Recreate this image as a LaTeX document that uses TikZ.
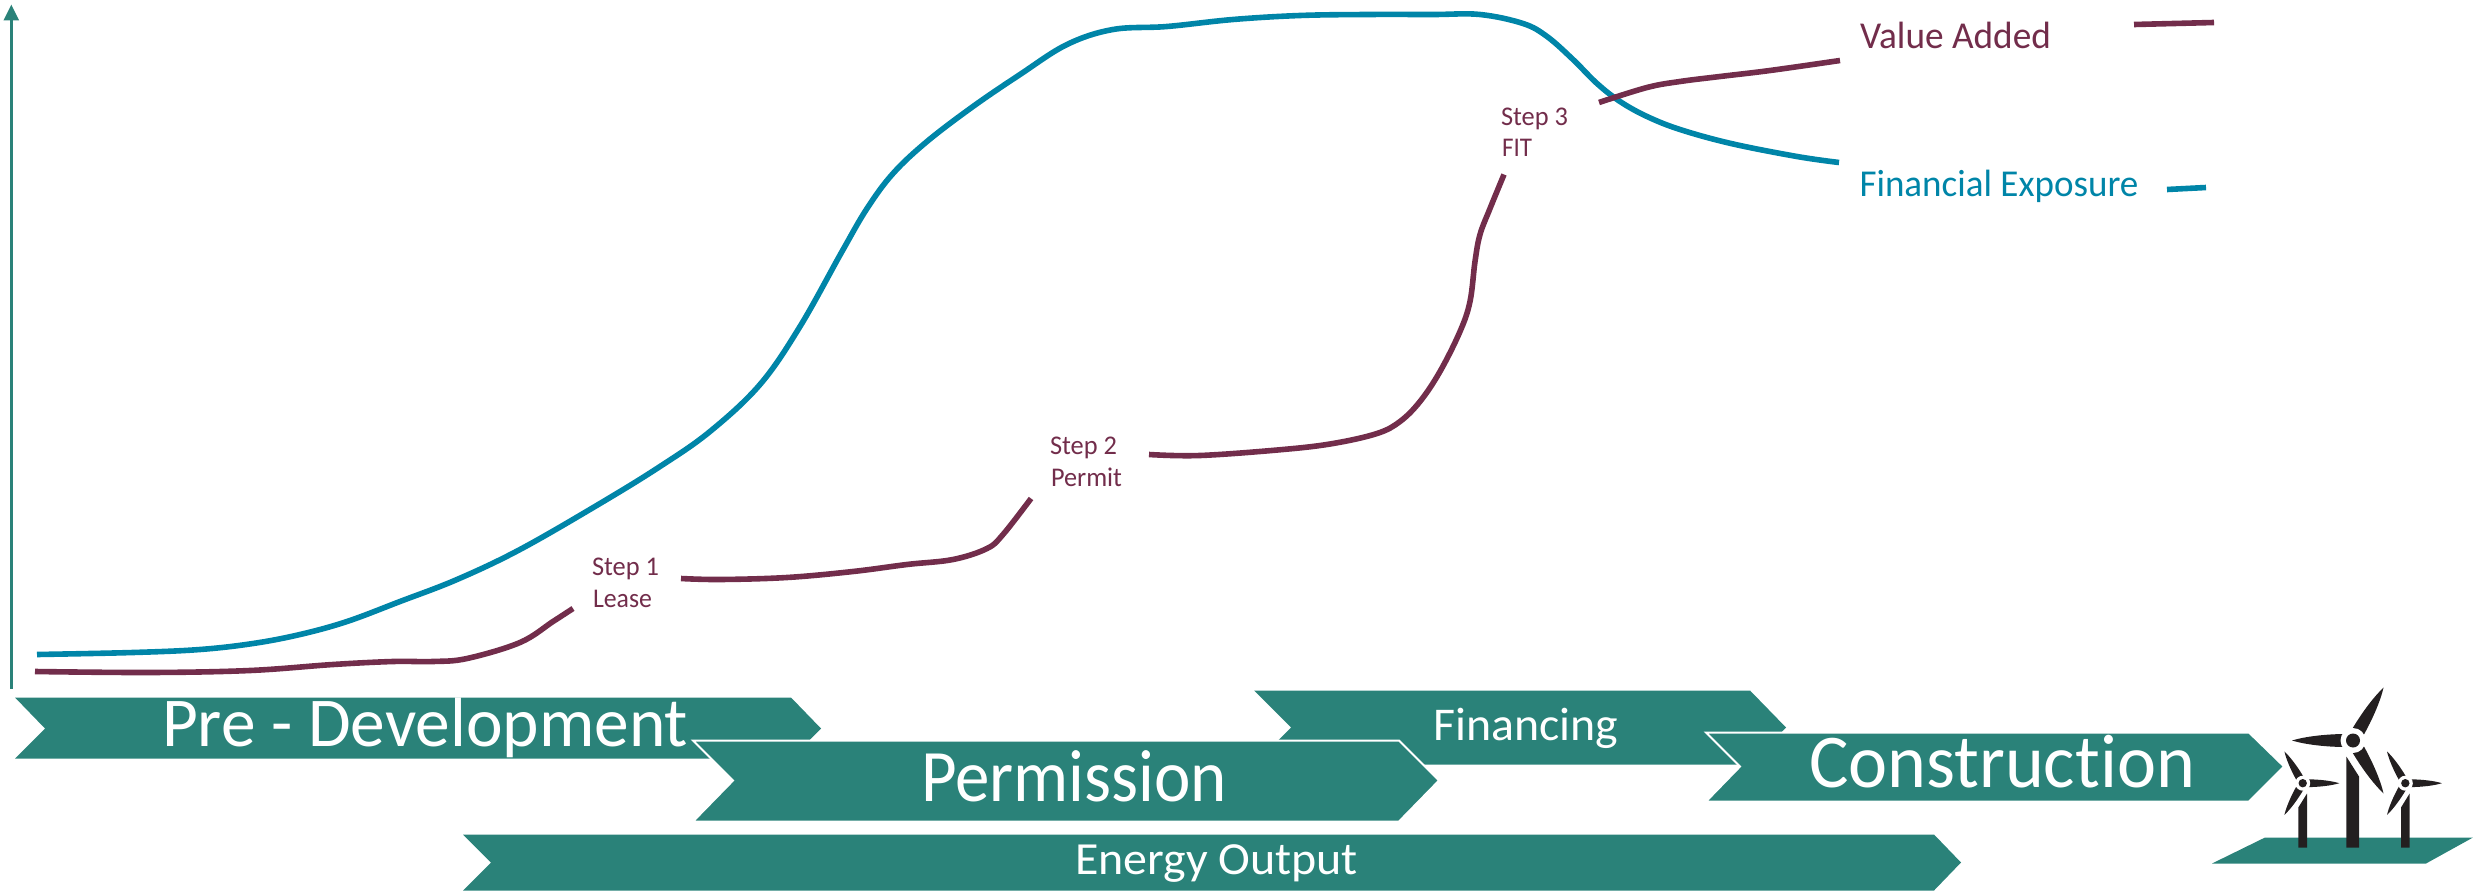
\documentclass[tikz,border=0pt]{standalone}
\usepackage{fontspec}
\usepackage{graphicx}
\setmainfont[Ligatures=NoCommon]{Carlito}
\usetikzlibrary{arrows.meta}
\definecolor{bandgreen}{HTML}{2A8279}
\definecolor{curveteal}{HTML}{0085A8}
\definecolor{curvemaroon}{HTML}{722D4B}
\definecolor{turbblack}{HTML}{231F20}
\newcommand{\fitw}[3]{\resizebox{#1pt}{\height}{\fontsize{#2}{#2}\selectfont #3}}
\newcommand{\rotorat}[4]{% x, y, scale, base angle
  \begin{scope}[shift={(#1,#2)},scale=#3]
    \foreach \bladeang in {0,120,240}{
      \fill[turb,rotate=#4+\bladeang] (9,-6.5) .. controls (28,-6.3) and (48,-4) .. (61,0)
        .. controls (48,4) and (28,6.3) .. (9,6.5) -- cycle;
    }
    \fill[white] (0,0) circle[radius=12.5];
    \fill[turb] (0,0) circle[radius=7];
  \end{scope}}
\tikzset{
  x=1pt,y=-1pt,
  band/.style={fill=bandgreen},
  bandtop/.style={fill=bandgreen,draw=white,line width=2pt,line join=miter},
  lbl/.style={anchor=base west,inner sep=0pt,outer sep=0pt},
  bandlbl/.style={lbl,text=white},
  marlbl/.style={lbl,text=curvemaroon},
  teallbl/.style={lbl,text=curveteal},
  tealcurve/.style={draw=curveteal,line width=5.6pt},
  marooncurve/.style={draw=curvemaroon,line width=5.6pt},
  turb/.style={fill=turbblack},
}
\begin{document}
\begin{tikzpicture}
\useasboundingbox (0,-1.5) rectangle (2473,889.5);
% axis
\coordinate (axisbottom) at (11.3,687);
\coordinate (axistop) at (11.3,3);
\draw[bandgreen,line width=2.7pt,-{Triangle[length=16pt,width=15pt]}] (axisbottom) -- (axistop);
% curves
\draw[tealcurve] plot[smooth,tension=0.6] coordinates {
(37,653)(133,651)(200,648)(253,642)(300,633)(347,620)(400,600)(457,578)(520,548)
(600,502)(660,465)(710,430)(760,383)(800,325)(842,250)(867,207)(893,172)(927,140)
(973,105)(1020,73)(1067,43)(1113,28)(1167,25)(1233,18)(1300,14)(1367,13)(1433,13)(1480,13)
(1523,22)(1547,35)(1573,58)(1597,82)(1620,100)(1647,115)(1680,128)(1731,142)(1797,155)(1839,161)};
\draw[marooncurve] plot[smooth,tension=0.6] coordinates {
(35,670)(150,671)(250,669)(333,663)(393,660)(433,660)(467,657)(520,641)(553,620)(573,607)};
\draw[marooncurve] plot[smooth,tension=0.6] coordinates {
(681,577)(720,578)(787,576)(853,570)(907,563)(953,558)(987,547)(1003,533)(1031,497)};
\draw[marooncurve] plot[smooth,tension=0.6] coordinates {
(1149,453)(1200,454)(1283,448)(1333,442)(1377,432)(1400,420)(1420,400)(1440,370)(1460,330)(1470,300)(1475,260)(1480,233)(1490,207)(1504,173)};
\draw[marooncurve] plot[smooth,tension=0.6] coordinates {
(1599,101)(1647,86)(1680,80)(1720,75)(1770,69)(1840,59)};
\coordinate (valuelegA) at (2134,23); \coordinate (valuelegB) at (2214,21);
\coordinate (finlegA) at (2167,188); \coordinate (finlegB) at (2206,186);
\draw[marooncurve] (valuelegA) -- (valuelegB);
\draw[tealcurve] (finlegA) -- (finlegB);
% bands
\fill[band] (15,696) -- (791,696) -- (821,727) -- (791,757) -- (15,757) -- (45,727) -- cycle;
\fill[band] (1254,689) -- (1750,689) -- (1786,726) -- (1750,763) -- (1254,763) -- (1291,726) -- cycle;
\fill[band] (463,833) -- (1934,833) -- (1961,861) -- (1934,889) -- (463,889) -- (491,861) -- cycle;
\path[bandtop] (693,739) -- (1399,739) -- (1439,779) -- (1399,820) -- (693,820) -- (733,779) -- cycle;
\path[bandtop] (1706,731) -- (2249,731) -- (2284,765) -- (2249,800) -- (1706,800) -- (1740,765) -- cycle;
% band labels
\node[bandlbl] (predev) at (162,745) {\fitw{526}{70}{Pre - Development}};
\node[bandlbl] (permission) at (921,800) {\fitw{306}{74}{Permission}};
\node[bandlbl] (financing) at (1433.5,739) {\fitw{185}{47}{Financing}};
\node[bandlbl] (energy) at (1075,873) {\fitw{283}{46}{Energy Output}};
\node[bandlbl] (construction) at (1809,786) {\fitw{386}{76}{Construction}};
% curve labels
\node[marlbl] (step1) at (592,574) {\fitw{67}{27}{Step 1}};
\node[marlbl] (lease) at (593,606) {\fitw{59}{27}{Lease}};
\node[marlbl] (step2) at (1050,453) {\fitw{67}{27}{Step 2}};
\node[marlbl] (permit) at (1051,485) {\fitw{71}{27}{Permit}};
\node[marlbl] (step3) at (1501,124) {\fitw{67}{27}{Step 3}};
\node[marlbl] (fit) at (1502,155) {\fitw{30}{27}{FIT}};
\node[marlbl] (value) at (1860,47) {\fitw{191}{38}{Value Added}};
\node[teallbl] (exposure) at (1859.5,195) {\fitw{279}{38}{Financial Exposure}};
% ground
\fill[band] (2212,862) -- (2265,836) -- (2473,836) -- (2426,862) -- cycle;
% turbines
\fill[turb] (2346.3,755) -- (2359,775) -- (2359,846) -- (2346.3,846) -- cycle;
\fill[turb] (2298.3,806) -- (2307,792) -- (2307,846) -- (2298.3,846) -- cycle;
\fill[turb] (2401,806) -- (2409.6,792) -- (2409.6,846) -- (2401,846) -- cycle;
\rotorat{2353}{739}{1}{60}
\rotorat{2302.7}{781.7}{0.6}{0}
\rotorat{2405.3}{781.7}{0.6}{0}
\end{tikzpicture}
\end{document}
